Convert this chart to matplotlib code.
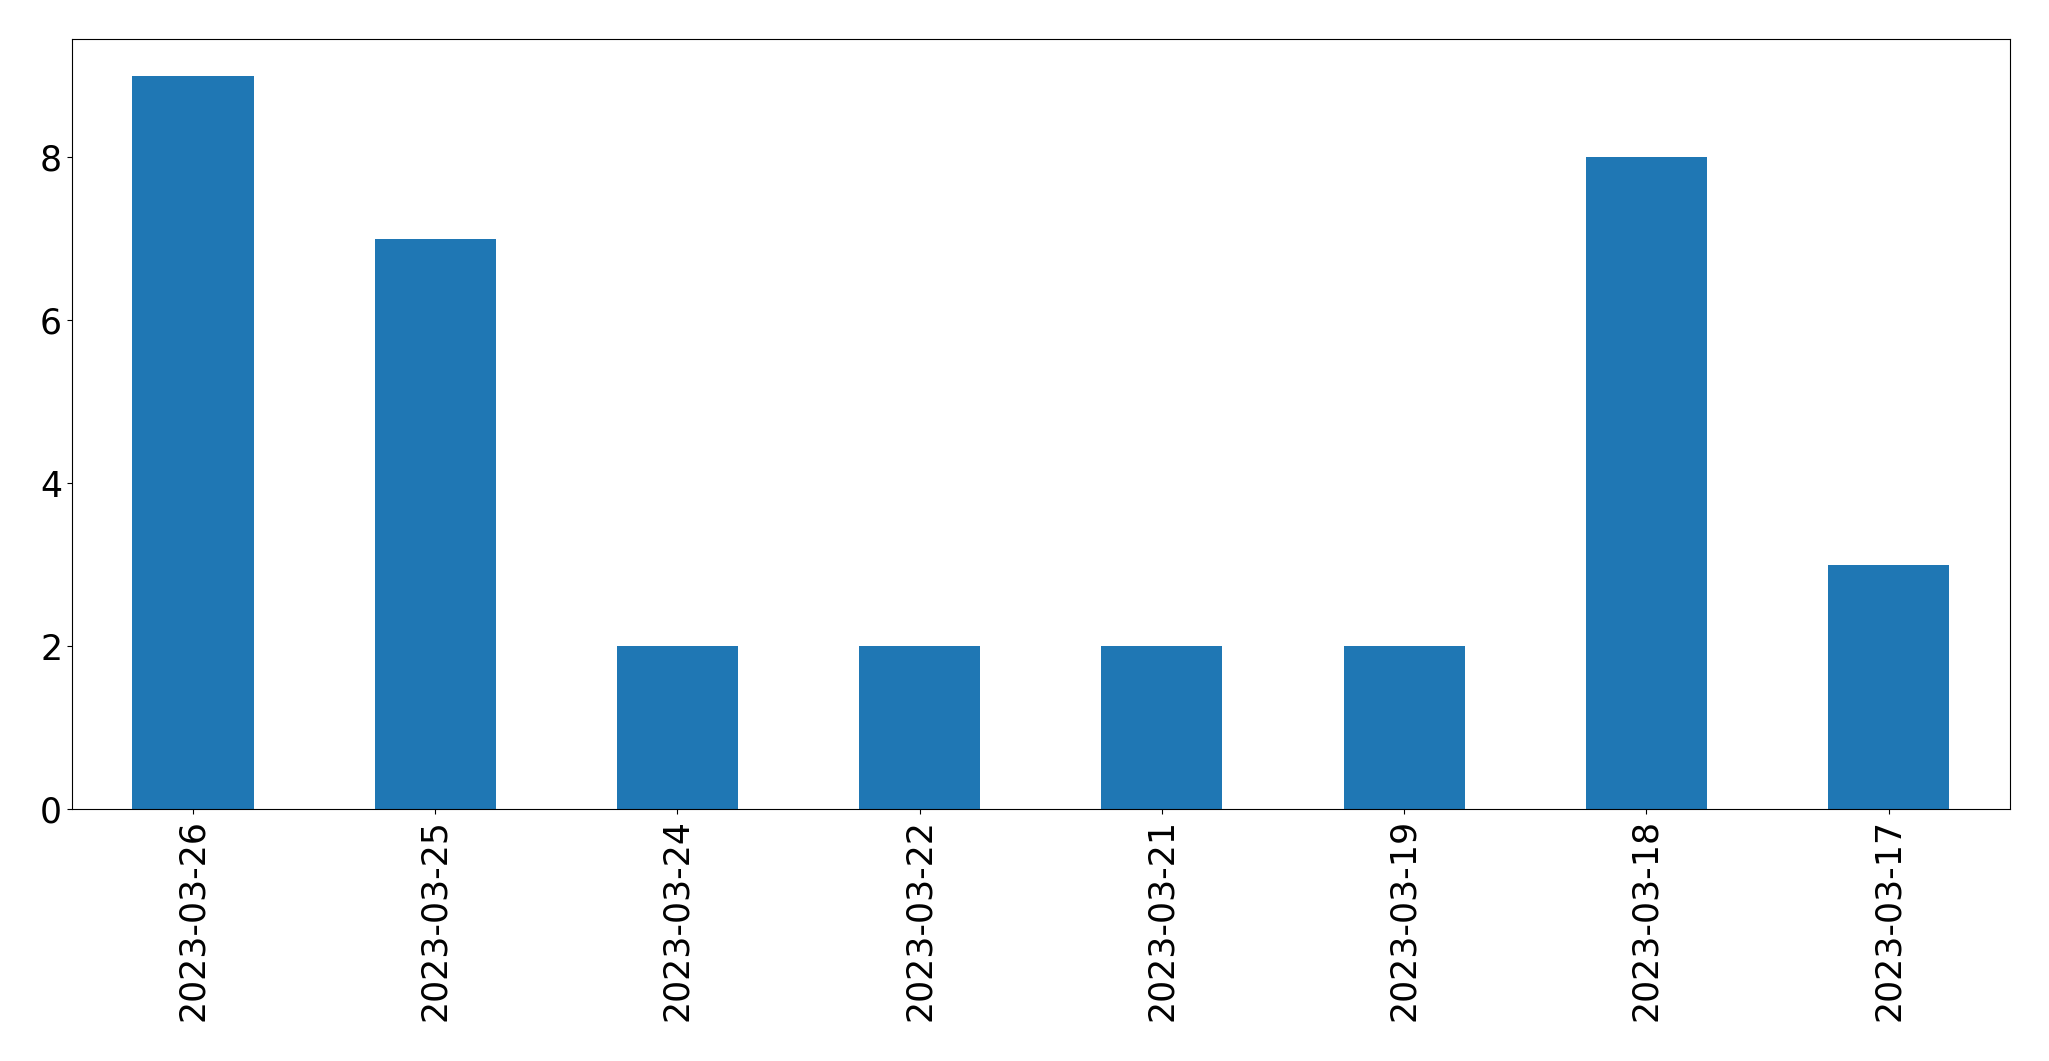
import matplotlib
matplotlib.use("Agg")
import matplotlib.pyplot as plt
import numpy as np

dates = ["2023-03-26", "2023-03-25", "2023-03-24", "2023-03-22",
         "2023-03-21", "2023-03-19", "2023-03-18", "2023-03-17"]
counts = [9, 7, 2, 2, 2, 2, 8, 3]

fig = plt.figure(figsize=(20.49, 10.61), dpi=100)
ax = fig.add_axes([0.0351, 0.2375, 0.9808 - 0.0351, 0.963 - 0.2375])
x = np.arange(len(dates))
ax.bar(x, counts, width=0.5, color="#1f77b4")
ax.set_xlim(-0.5, len(dates) - 0.5)
ax.set_ylim(0, 9.45)
ax.set_xticks(x)
ax.set_xticklabels(dates, rotation=90, fontsize=25)
ax.set_yticks([0, 2, 4, 6, 8])
ax.tick_params(axis="y", labelsize=25)
fig.savefig("out.png", dpi=100)
